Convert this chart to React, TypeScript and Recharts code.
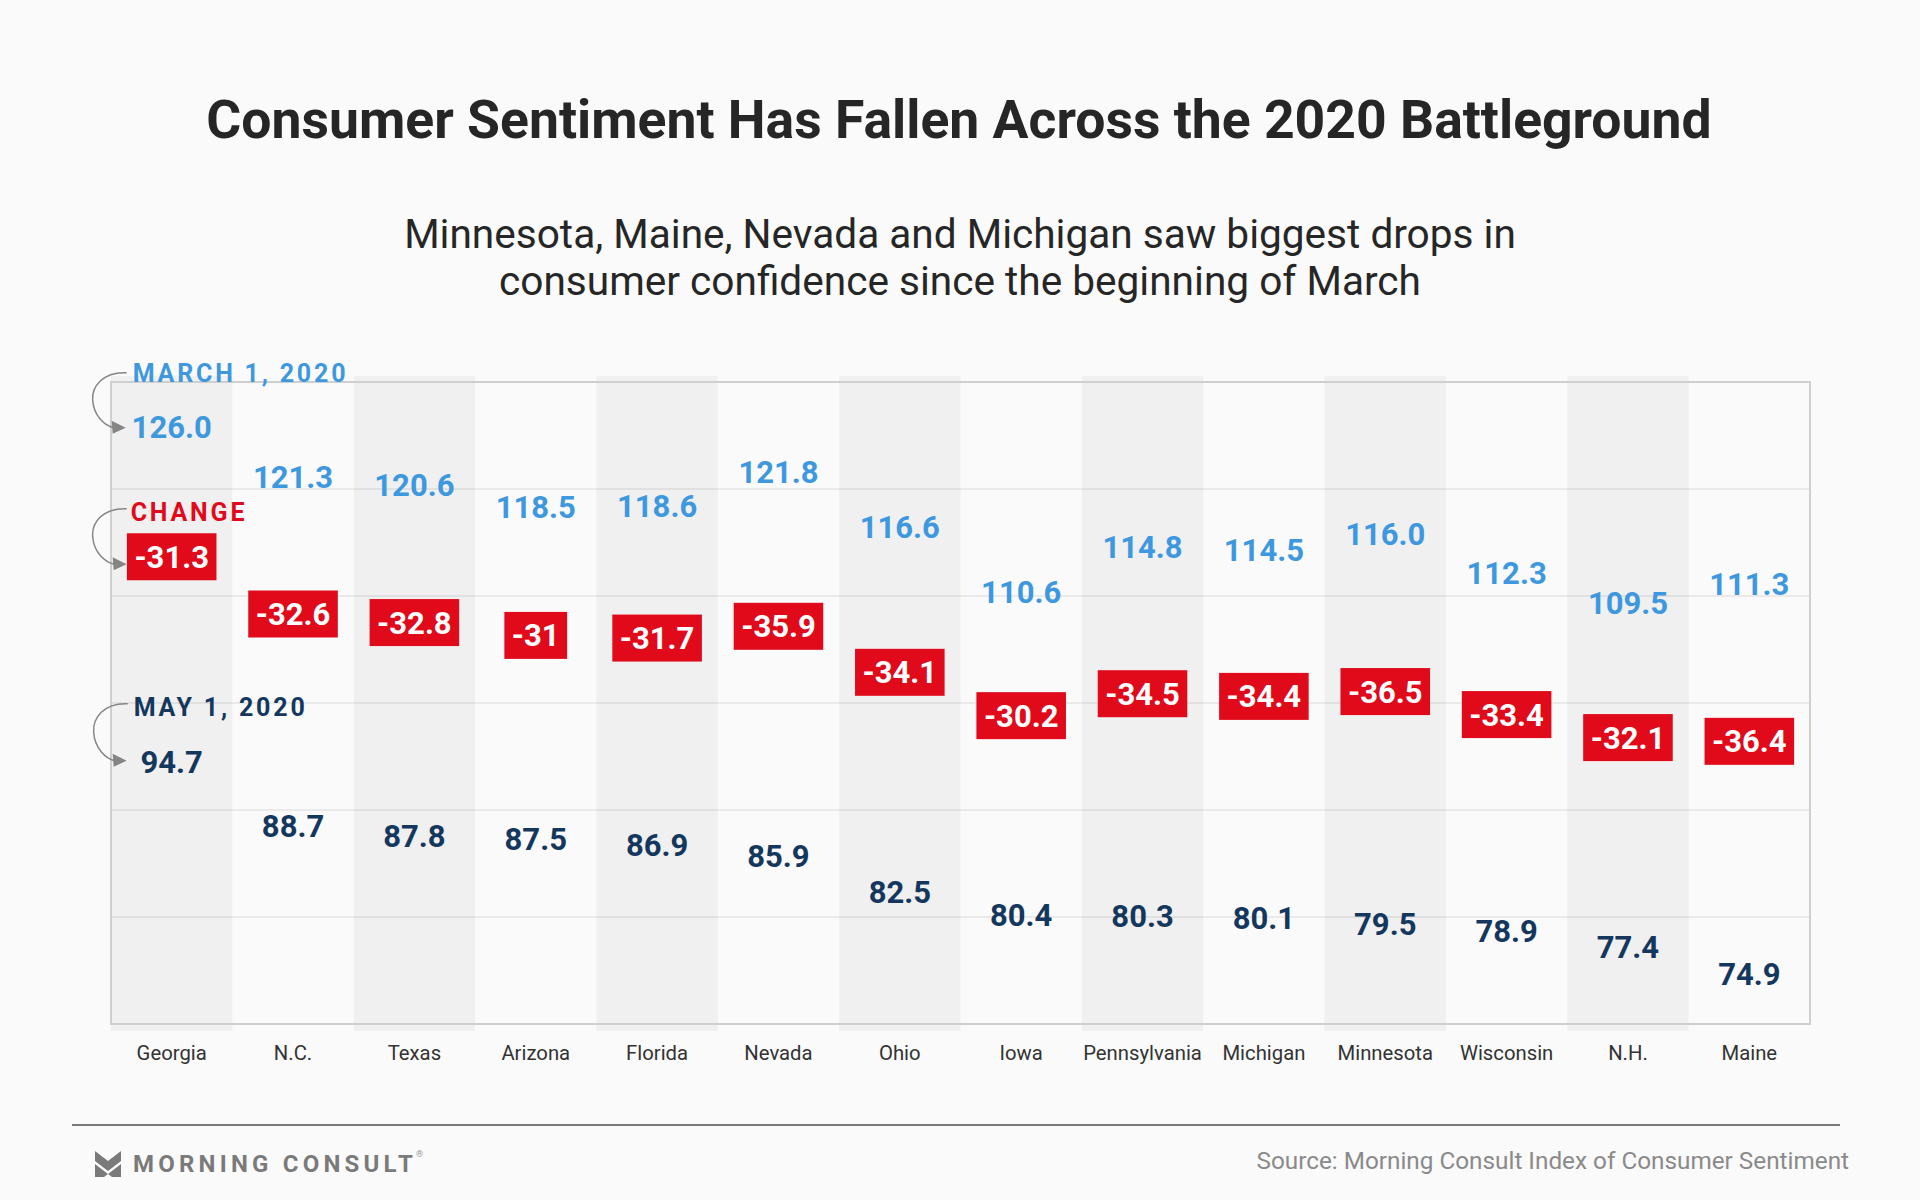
import React from 'react';
import { ComposedChart, Line, XAxis, YAxis, CartesianGrid, ReferenceArea } from 'recharts';

const states = ['Georgia', 'N.C.', 'Texas', 'Arizona', 'Florida', 'Nevada', 'Ohio', 'Iowa', 'Pennsylvania', 'Michigan', 'Minnesota', 'Wisconsin', 'N.H.', 'Maine'];
const march1 = [126.0, 121.3, 120.6, 118.5, 118.6, 121.8, 116.6, 110.6, 114.8, 114.5, 116.0, 112.3, 109.5, 111.3];
const may1 = [94.7, 88.7, 87.8, 87.5, 86.9, 85.9, 82.5, 80.4, 80.3, 80.1, 79.5, 78.9, 77.4, 74.9];
const changes = [-31.3, -32.6, -32.8, -31, -31.7, -35.9, -34.1, -30.2, -34.5, -34.4, -36.5, -33.4, -32.1, -36.4];
const yTicks = [70, 80, 90, 100, 110, 120, 130];

const data = states.map((s, i) => ({
  state: s,
  march: march1[i],
  may: may1[i],
  change: changes[i],
  mid: (march1[i] + may1[i]) / 2,
}));

const FONT = 'Roboto, "Noto Sans", sans-serif';
const BLUE = '#3e98df';
const NAVY = '#14375d';
const RED = '#e00a1b';
const ARROW = '#858585';
const VAL_SIZE = 31;

let ctx: CanvasRenderingContext2D | null = null;
const measure = (t: string, font: string) => {
  if (!ctx) ctx = document.createElement('canvas').getContext('2d');
  if (!ctx) return t.length * 17;
  ctx.font = font;
  return ctx.measureText(t).width;
};

const CurvedArrow = ({ sx, sy, tx, ty }: { sx: number; sy: number; tx: number; ty: number }) => {
  const h = ty - sy;
  const d = `M ${sx} ${sy} C ${sx - 24} ${sy - 1} ${sx - 35} ${sy + h * 0.25} ${sx - 34} ${sy + h * 0.5} C ${sx - 33} ${sy + h * 0.78} ${sx - 22} ${ty - 2} ${tx - 12} ${ty}`;
  return (
    <g>
      <path d={d} fill="none" stroke={ARROW} strokeWidth={1.5} />
      <polygon points={`${tx},${ty} ${tx - 14},${ty - 7} ${tx - 13},${ty + 6}`} fill={ARROW} />
    </g>
  );
};

const AnnoText = ({ x, y, color, text }: { x: number; y: number; color: string; text: string }) => (
  <text x={x} y={y} fill={color} fontFamily={FONT} fontWeight={700} fontSize={25} letterSpacing={2.8}>
    {text}
  </text>
);

const renderMarch = (props: any) => {
  const { cx, cy, index, payload } = props;
  return (
    <g key={`march-${index}`}>
      <text x={cx} y={cy + 13} textAnchor="middle" fill={BLUE} fontFamily={FONT} fontWeight={700} fontSize={VAL_SIZE}>
        {payload.march.toFixed(1)}
      </text>
      {index === 0 && (
        <g>
          <AnnoText x={cx - 39} y={cy - 43} color={BLUE} text="MARCH 1, 2020" />
          <CurvedArrow sx={cx - 45} sy={cy - 52} tx={cx - 46} ty={cy + 3} />
        </g>
      )}
    </g>
  );
};

const renderMay = (props: any) => {
  const { cx, cy, index, payload } = props;
  return (
    <g key={`may-${index}`}>
      <text x={cx} y={cy + 13} textAnchor="middle" fill={NAVY} fontFamily={FONT} fontWeight={700} fontSize={VAL_SIZE}>
        {payload.may.toFixed(1)}
      </text>
      {index === 0 && (
        <g>
          <AnnoText x={cx - 38} y={cy - 44} color={NAVY} text="MAY 1, 2020" />
          <CurvedArrow sx={cx - 44} sy={cy - 56} tx={cx - 45} ty={cy + 1} />
        </g>
      )}
    </g>
  );
};

const renderChange = (props: any) => {
  const { cx, cy, index, payload } = props;
  const label = String(payload.change);
  const w = measure(label, `700 ${VAL_SIZE}px Roboto`) + 15;
  const by = cy - 35.5;
  return (
    <g key={`chg-${index}`}>
      <rect x={cx - w / 2} y={by - 23.5} width={w} height={47} fill={RED} />
      <text x={cx} y={by + 11} textAnchor="middle" fill="#ffffff" fontFamily={FONT} fontWeight={700} fontSize={VAL_SIZE}>
        {label}
      </text>
      {index === 0 && (
        <g>
          <AnnoText x={cx - 41} y={by - 36} color={RED} text="CHANGE" />
          <CurvedArrow sx={cx - 45} sy={by - 48} tx={cx - 45} ty={by + 7.5} />
        </g>
      )}
    </g>
  );
};

const CategoryTick = (props: any) => {
  const { x, y, payload } = props;
  return (
    <text x={x} y={y + 36} textAnchor="middle" fill="#333333" fontFamily={FONT} fontSize={20.3}>
      {payload.value}
    </text>
  );
};

export default function App() {
  return (
    <div style={{ position: 'absolute', left: 0, top: 0, width: 1920, height: 1200, background: '#fafafa', overflow: 'hidden' }}>
      <svg width={1920} height={1200} style={{ position: 'absolute', left: 0, top: 0 }}>
        <text x={959} y={138} textAnchor="middle" fill="#262626" fontFamily={FONT} fontWeight={700} fontSize={53.5}>
          Consumer Sentiment Has Fallen Across the 2020 Battleground
        </text>
        <text x={960} y={248} textAnchor="middle" fill="#262626" fontFamily={FONT} fontSize={40.6}>
          Minnesota, Maine, Nevada and Michigan saw biggest drops in
        </text>
        <text x={960} y={295} textAnchor="middle" fill="#262626" fontFamily={FONT} fontSize={40.6}>
          consumer confidence since the beginning of March
        </text>
        <line x1={72} y1={1125} x2={1840} y2={1125} stroke="#7a7a7a" strokeWidth={2} />
        <g transform="translate(95,1151)" fill="#7a7a7a">
          <polygon points="0,0 13,10 26,0 26,10 13,20 0,10" />
          <polygon points="0,13 13,23 26,13 26,26 17,26 13,23 9,26 0,26" />
        </g>
        <text x={133} y={1172} fill="#7a7a7a" fontFamily={FONT} fontWeight={700} fontSize={24} letterSpacing={4.2}>
          MORNING CONSULT
        </text>
        <text x={416} y={1157} fill="#9a9a9a" fontFamily={FONT} fontSize={9}>®</text>
        <text x={1849} y={1169} textAnchor="end" fill="#8a8a8a" fontFamily={FONT} fontSize={24.3}>
          Source: Morning Consult Index of Consumer Sentiment
        </text>
      </svg>
      <div style={{ position: 'absolute', left: 0, top: 0 }}>
        <ComposedChart width={1920} height={1200} data={data} margin={{ top: 382, right: 110, bottom: 116, left: 111 }}>
          {states.filter((_, i) => i % 2 === 0).map((s) => (
            <ReferenceArea key={`band-${s}`} x1={s} x2={s} y1={69.35} y2={130.56} ifOverflow="visible" fill="#000000" fillOpacity={0.04} stroke="none" />
          ))}
          <CartesianGrid vertical={false} stroke="#e4e4e4" strokeWidth={1.5} />
          <ReferenceArea x1={states[0]} x2={states[states.length - 1]} y1={70} y2={130} ifOverflow="visible" fill="none" stroke="#cfcfcf" strokeWidth={2} />
          <XAxis dataKey="state" scale="band" interval={0} axisLine={false} tickLine={false} tickSize={0} tickMargin={0} height={60} tick={<CategoryTick />} />
          <YAxis hide domain={[70, 130]} ticks={yTicks} type="number" />
          <Line dataKey="march" stroke="none" dot={renderMarch} activeDot={false} isAnimationActive={false} />
          <Line dataKey="mid" stroke="none" dot={renderChange} activeDot={false} isAnimationActive={false} />
          <Line dataKey="may" stroke="none" dot={renderMay} activeDot={false} isAnimationActive={false} />
        </ComposedChart>
      </div>
    </div>
  );
}
